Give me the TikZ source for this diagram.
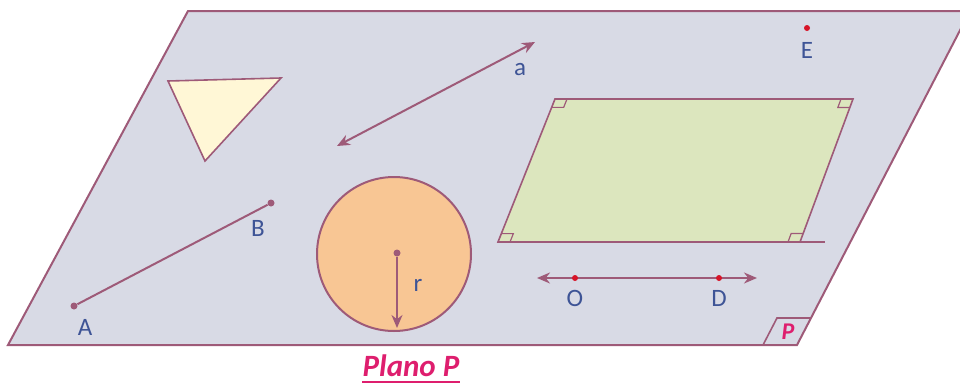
\documentclass[tikz,border=0pt]{standalone}
\usepackage{fontspec}
\setmainfont{Carlito}
\usetikzlibrary{calc,arrows.meta}

\definecolor{planefill}{RGB}{216,218,229}
\definecolor{lineclr}{RGB}{158,90,120}
\definecolor{lblclr}{RGB}{62,84,150}
\definecolor{ptclr}{RGB}{215,20,40}
\definecolor{trifill}{RGB}{255,247,214}
\definecolor{rectfill}{RGB}{220,230,190}
\definecolor{circfill}{RGB}{248,198,148}
\definecolor{magclr}{RGB}{222,30,110}

\tikzset{
  lbl/.style={text=lblclr,font=\fontsize{12.5}{14}\selectfont,inner sep=0pt},
  shape line/.style={draw=lineclr,line width=0.8pt},
  reddot/.style={circle,fill=ptclr,inner sep=0pt,minimum size=3pt},
  segdot/.style={circle,fill=lineclr,inner sep=0pt,minimum size=3.5pt},
  rmark/.style={draw=lineclr,line width=0.6pt}
}

\begin{document}
\begin{tikzpicture}[x=0.5pt,y=-0.5pt,>={Stealth[length=6.5pt,width=5.5pt]}]
			\useasboundingbox (0,0) rectangle (960,386);
			
			% the plane
			\draw[shape line,line width=1pt,fill=planefill] (188,11) -- (970,11) -- (797,345) -- (8,345) -- cycle;
			\draw[shape line] (763,345) -- (777,318) -- (811,318);
			\node[text=magclr,font=\fontsize{12}{14}\selectfont\bfseries\itshape] (pname) at (788,332) {P};
			
			% triangle
			\draw[shape line,fill=trifill] (168,81) -- (281,78) -- (205,161) -- cycle;
			
			% line a
			\coordinate (a1) at (337,146);
			\coordinate (a2) at (535,42);
			\draw[<->,lineclr,line width=1pt] (a1) -- (a2);
			\node[lbl] (la) at (520,70) {a};
			
			% point E
			\node[reddot] (E) at (807,28) {};
			\node[lbl] (lE) at (807,50) {E};
			
			% rectangle
			\coordinate (g1) at (555,99);
			\coordinate (g2) at (853,99);
			\coordinate (g3) at (800,242);
			\coordinate (g4) at (498,242);
			\coordinate (g5) at (825,242);
			\draw[shape line,fill=rectfill] (g1) -- (g2) -- (g3) -- (g4) -- cycle;
			\draw[shape line] (g3) -- (g5);
			\draw[rmark] ($(g1)+(12,0)$) -- ($(g1)!4.5pt!(g4)+(12,0)$) -- ($(g1)!4.5pt!(g4)$);
			\draw[rmark] ($(g2)+(-12,0)$) -- ($(g2)!4.5pt!(g3)+(-12,0)$) -- ($(g2)!4.5pt!(g3)$);
			\draw[rmark] ($(g3)+(-12,0)$) -- ($(g3)!4.5pt!(g2)+(-12,0)$) -- ($(g3)!4.5pt!(g2)$);
			\draw[rmark] ($(g4)+(12,0)$) -- ($(g4)!4.5pt!(g1)+(12,0)$) -- ($(g4)!4.5pt!(g1)$);
			
			% line OD
			\coordinate (l1) at (537,278);
			\coordinate (l2) at (757,278);
			\draw[<->,lineclr,line width=1pt] (l1) -- (l2);
			\node[reddot] (O) at (575,278) {};
			\node[reddot] (D) at (719,278) {};
			\node[lbl] (lO) at (575,298) {O};
			\node[lbl] (lD) at (719,298) {D};
			
			% segment AB
			\node[segdot] (A) at (74,306) {};
			\node[segdot] (B) at (271,203) {};
			\draw[lineclr,line width=1pt] (A) -- (B);
			\node[lbl] (lA) at (85,327) {A};
			\node[lbl] (lB) at (258,228) {B};
			
			% circle
			\draw[shape line,line width=1pt,fill=circfill] (394,254) circle (38.5pt);
			\node[segdot] (C) at (397,253) {};
			\coordinate (Cb) at (397,328);
			\draw[->,lineclr,line width=1pt] (C) -- (Cb);
			\node[lbl] (lr) at (418,285) {r};
			
			% caption
			\node[text=magclr,font=\fontsize{15.5}{17}\selectfont\bfseries\itshape,inner sep=0pt] (cap) at (411,366) {Plano P};
			\draw[magclr,line width=1pt] ($(cap.south west)+(0,5)$) -- ($(cap.south east)+(0,5)$);
		\end{tikzpicture}
\end{document}
